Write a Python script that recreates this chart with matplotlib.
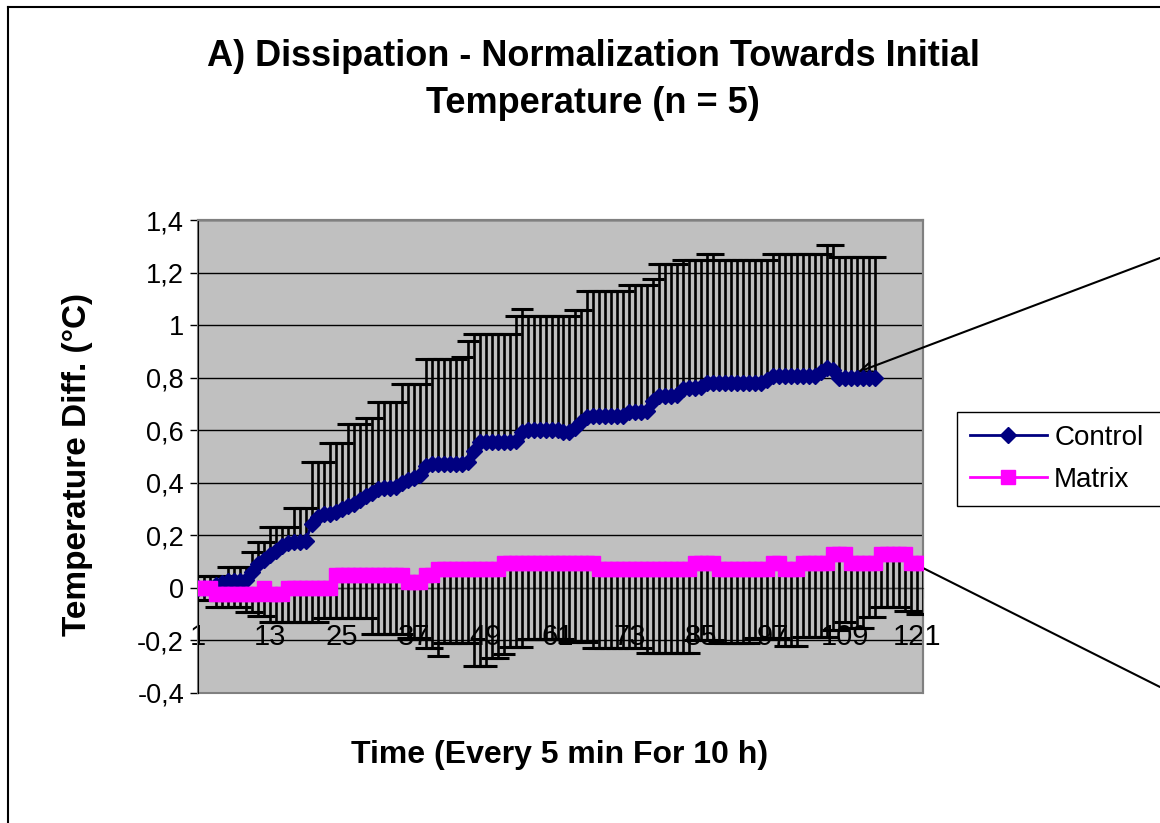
import numpy as np
import matplotlib
matplotlib.use("Agg")
import matplotlib.pyplot as plt
from matplotlib.patches import Rectangle
from matplotlib.lines import Line2D

plt.rcParams['font.family'] = ['Liberation Sans', 'DejaVu Sans']

# ---------------- data ----------------
# Control: mean and top of the (plus only) error bar, 114 time points
control_mean = [
    0.0, 0.0, 0.0, 0.01, 0.02, 0.025, 0.025, 0.025, 0.03, 0.06,
    0.09, 0.105, 0.125, 0.14, 0.16, 0.17, 0.175, 0.175, 0.18, 0.245,
    0.27, 0.28, 0.28, 0.29, 0.30, 0.31, 0.32, 0.335, 0.35, 0.36,
    0.375, 0.38, 0.38, 0.385, 0.40, 0.41, 0.42, 0.43, 0.465, 0.47,
    0.47, 0.47, 0.47, 0.47, 0.47, 0.48, 0.52, 0.555, 0.555, 0.555,
    0.555, 0.555, 0.555, 0.56, 0.595, 0.60, 0.60, 0.60, 0.60, 0.60,
    0.60, 0.595, 0.595, 0.61, 0.63, 0.65, 0.655, 0.655, 0.655, 0.655,
    0.655, 0.655, 0.67, 0.67, 0.67, 0.675, 0.71, 0.73, 0.73, 0.73,
    0.735, 0.755, 0.76, 0.76, 0.765, 0.78, 0.78, 0.78, 0.78, 0.78,
    0.78, 0.78, 0.78, 0.78, 0.78, 0.79, 0.805, 0.805, 0.805, 0.805,
    0.805, 0.805, 0.805, 0.805, 0.82, 0.835, 0.83, 0.80, 0.80, 0.80,
    0.80, 0.80, 0.80, 0.80]
control_upper = [
    0.0, 0.046, 0.046, 0.046, 0.046, 0.081, 0.081, 0.081, 0.081, 0.138,
    0.176, 0.176, 0.233, 0.233, 0.233, 0.233, 0.303, 0.303, 0.303, 0.48,
    0.48, 0.48, 0.553, 0.553, 0.553, 0.624, 0.624, 0.624, 0.646, 0.646,
    0.707, 0.707, 0.707, 0.707, 0.776, 0.776, 0.776, 0.776, 0.87, 0.87,
    0.87, 0.87, 0.87, 0.87, 0.88, 0.94, 0.965, 0.965, 0.965, 0.965,
    0.965, 0.965, 0.965, 1.035, 1.06, 1.035, 1.035, 1.035, 1.035, 1.035,
    1.035, 1.035, 1.035, 1.058, 1.058, 1.128, 1.128, 1.128, 1.128, 1.128,
    1.128, 1.128, 1.153, 1.153, 1.153, 1.153, 1.176, 1.233, 1.233, 1.233,
    1.233, 1.246, 1.246, 1.246, 1.246, 1.271, 1.271, 1.248, 1.248, 1.248,
    1.248, 1.248, 1.248, 1.248, 1.248, 1.248, 1.271, 1.271, 1.271, 1.271,
    1.271, 1.271, 1.271, 1.271, 1.271, 1.306, 1.306, 1.261, 1.261, 1.261,
    1.261, 1.261, 1.261, 1.261]

# Matrix: mean and bottom of the (minus only) error bar, 122 time points
matrix_mean = [
    0.0, 0.0, 0.0, -0.022, -0.022, -0.022, -0.022, -0.022, -0.022, -0.022,
    -0.022, 0.0, -0.022, -0.022, -0.022, 0.0, 0.0, 0.0, 0.0, 0.0,
    0.0, 0.0, 0.0, 0.048, 0.048, 0.048, 0.048, 0.048, 0.048, 0.048,
    0.048, 0.048, 0.048, 0.048, 0.048, 0.023, 0.023, 0.023, 0.048, 0.048,
    0.071, 0.071, 0.071, 0.071, 0.071, 0.071, 0.071, 0.071, 0.071, 0.071,
    0.071, 0.095, 0.095, 0.095, 0.095, 0.095, 0.095, 0.095, 0.095, 0.095,
    0.095, 0.095, 0.095, 0.095, 0.095, 0.095, 0.095, 0.071, 0.071, 0.071,
    0.071, 0.071, 0.071, 0.071, 0.071, 0.071, 0.071, 0.071, 0.071, 0.071,
    0.071, 0.071, 0.071, 0.095, 0.095, 0.095, 0.095, 0.071, 0.071, 0.071,
    0.071, 0.071, 0.071, 0.071, 0.071, 0.071, 0.095, 0.095, 0.071, 0.071,
    0.071, 0.095, 0.095, 0.095, 0.095, 0.095, 0.13, 0.13, 0.13, 0.095,
    0.095, 0.095, 0.095, 0.095, 0.13, 0.13, 0.13, 0.13, 0.13, 0.095,
    0.095, 0.095]
matrix_lower = [
    0.0, -0.046, -0.046, -0.071, -0.071, -0.071, -0.071, -0.071, -0.09, -0.09,
    -0.107, -0.107, -0.128, -0.128, -0.128, -0.128, -0.128, -0.128, -0.128, -0.128,
    -0.128, -0.115, -0.115, -0.115, -0.115, -0.115, -0.115, -0.115, -0.115, -0.175,
    -0.175, -0.175, -0.175, -0.175, -0.175, -0.19, -0.19, -0.19, -0.229, -0.229,
    -0.26, -0.21, -0.21, -0.21, -0.21, -0.21, -0.297, -0.297, -0.297, -0.268,
    -0.268, -0.25, -0.226, -0.226, -0.226, -0.195, -0.195, -0.195, -0.195, -0.195,
    -0.195, -0.195, -0.205, -0.205, -0.205, -0.205, -0.228, -0.228, -0.228, -0.228,
    -0.228, -0.228, -0.228, -0.228, -0.228, -0.249, -0.249, -0.249, -0.249, -0.249,
    -0.249, -0.249, -0.249, -0.198, -0.198, -0.198, -0.198, -0.21, -0.21, -0.21,
    -0.21, -0.21, -0.21, -0.19, -0.19, -0.19, -0.19, -0.19, -0.223, -0.223,
    -0.223, -0.185, -0.185, -0.185, -0.185, -0.185, -0.16, -0.16, -0.128, -0.153,
    -0.153, -0.153, -0.112, -0.112, -0.071, -0.071, -0.071, -0.071, -0.088, -0.088,
    -0.10, -0.10]

y_ticks = [-0.4, -0.2, 0, 0.2, 0.4, 0.6, 0.8, 1.0, 1.2, 1.4]
y_tick_labels = ['-0,4', '-0,2', '0', '0,2', '0,4', '0,6', '0,8', '1', '1,2', '1,4']
n_cats = 122
label_every = 12

title = "A) Dissipation - Normalization Towards Initial\nTemperature (n = 5)"
x_title = "Time (Every 5 min For 10 h)"
y_title = "Temperature Diff. (°C)"

CONTROL_COLOR = '#000080'
MATRIX_COLOR = '#FF00FF'

# ---------------- figure ----------------
fig = plt.figure(figsize=(11.6, 8.23), dpi=100)
ax = fig.add_axes([198 / 1160, 1 - 693 / 823, 725 / 1160, 473 / 823])
ax.set_facecolor('#C0C0C0')

cx = np.arange(1, len(control_mean) + 1)
mx = np.arange(1, len(matrix_mean) + 1)

# error bars (drawn by hand so only one side shows)
ax.vlines(cx, control_mean, control_upper, color='black', lw=1.9, zorder=3)
ax.plot(cx, control_upper, ls='none', marker='_', ms=16, mew=2.2, color='black', zorder=3)
ax.vlines(mx, matrix_lower, matrix_mean, color='black', lw=1.9, zorder=3)
ax.plot(mx, matrix_lower, ls='none', marker='_', ms=16, mew=2.2, color='black', zorder=3)

ax.plot(cx, control_mean, color=CONTROL_COLOR, lw=2, marker='D', ms=8.5,
        mec=CONTROL_COLOR, mfc=CONTROL_COLOR, label='Control', zorder=4)
ax.plot(mx, matrix_mean, color=MATRIX_COLOR, lw=2, marker='s', ms=10.5,
        mec=MATRIX_COLOR, mfc=MATRIX_COLOR, label='Matrix', zorder=5)

ax.set_xlim(1, n_cats)
ax.set_ylim(-0.4, 1.4)

ax.set_yticks(y_ticks)
ax.set_yticklabels(y_tick_labels)
ax.yaxis.grid(True, color='black', lw=1)
ax.set_axisbelow(True)

cats = list(range(1, n_cats + 1))
ax.set_xticks(cats)
ax.set_xticklabels([str(c) if (c - 1) % label_every == 0 else '' for c in cats])

ax.spines['bottom'].set_position(('data', 0))
ax.spines['bottom'].set_color('#404040')
ax.spines['left'].set_color('black')
ax.spines['top'].set_color('#808080')
ax.spines['right'].set_color('#808080')
ax.spines['top'].set_linewidth(1.5)
ax.spines['right'].set_linewidth(1.5)
ax.add_patch(Rectangle((0, 0), 1, 1, transform=ax.transAxes, fill=False,
                       edgecolor='#808080', lw=1.5, clip_on=False, zorder=1))

ax.tick_params(axis='x', length=7, width=0.8, color='#606060', direction='out',
               pad=18, labelsize=21)
ax.tick_params(axis='y', length=6, width=1, color='black', direction='out',
               pad=4, labelsize=19.5)

# titles
fig.text(593 / 1160, 1 - 80 / 823, title, ha='center', va='center',
         fontsize=26, fontweight='bold', linespacing=1.45)
fig.text(560 / 1160, 1 - 755 / 823, x_title, ha='center', va='center',
         fontsize=23, fontweight='bold')
fig.text(78 / 1160, 1 - 465 / 823, y_title, ha='center', va='center',
         rotation=90, fontsize=24, fontweight='bold')

# arrows coming in from outside the chart
ax.annotate('', xy=(111, 0.82), xytext=(1.0, 1 - 258 / 823),
            textcoords='figure fraction', annotation_clip=False,
            arrowprops=dict(arrowstyle='->,head_length=0.9,head_width=0.35',
                            color='black', lw=1.5, shrinkA=0, shrinkB=0))
ax.annotate('', xy=(119, 0.11), xytext=(1.0, 1 - 687 / 823),
            textcoords='figure fraction', annotation_clip=False,
            arrowprops=dict(arrowstyle='->,head_length=0.9,head_width=0.35',
                            color='black', lw=1.5, shrinkA=0, shrinkB=0))

# legend box runs past the right edge of the crop, as in the reference
leg = fig.legend(loc='upper left', mode='expand',
                 bbox_to_anchor=(957 / 1160, 1 - 412 / 823, 240 / 1160, 0),
                 bbox_transform=fig.transFigure, fontsize=20, frameon=True,
                 fancybox=False, framealpha=1, edgecolor='black', borderaxespad=0,
                 handlelength=2.8, handletextpad=0.25, labelspacing=0.6,
                 borderpad=0.45)
leg.get_frame().set_linewidth(1)

# outer chart border (only top and left are inside the crop)
fig.add_artist(Line2D([8 / 1160, 1.0], [1 - 7 / 823, 1 - 7 / 823],
                      transform=fig.transFigure, color='black', lw=1.5))
fig.add_artist(Line2D([8 / 1160, 8 / 1160], [0.0, 1 - 7 / 823],
                      transform=fig.transFigure, color='black', lw=1.5))

fig.savefig('out.png', dpi=100)
